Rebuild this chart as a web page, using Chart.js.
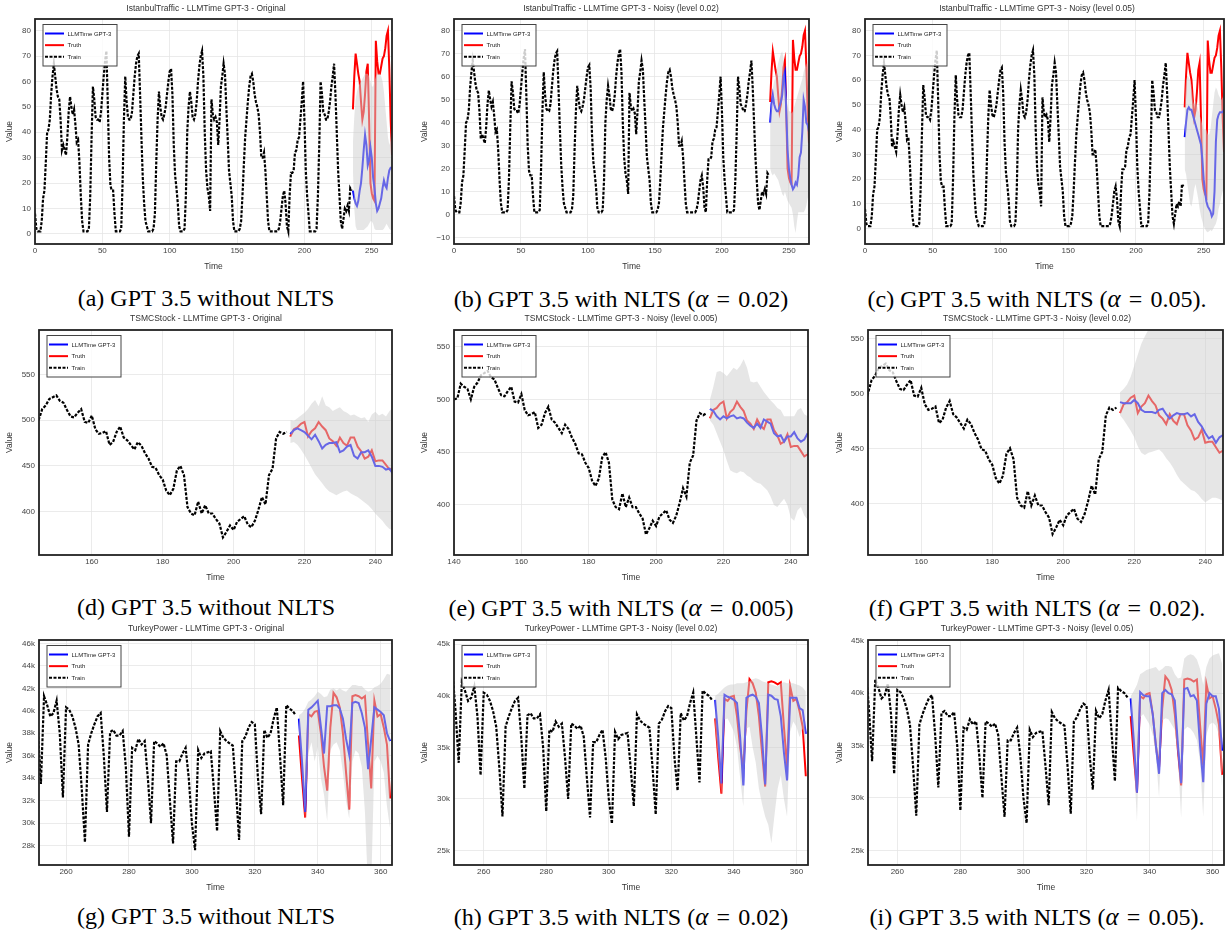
<!DOCTYPE html>
<html><head><meta charset="utf-8">
<script src="https://cdn.jsdelivr.net/npm/chart.js@4.4.1/dist/chart.umd.min.js"></script>
<style>
html,body{margin:0;padding:0;background:#fff;overflow:hidden;}
body{width:1229px;height:936px;position:relative;}
canvas{position:absolute;}
.cap{position:absolute;transform:translate(-50%,-50%);font-family:"Liberation Serif","Times New Roman",serif;font-size:24px;white-space:nowrap;color:#000;line-height:1;}
.cap .eq{margin:0 0.34em;}
.cap i{font-size:25px;}
.ttl{position:absolute;transform:translate(-50%,-50%);font-family:"Liberation Sans",Arial,sans-serif;font-size:8.5px;white-space:nowrap;color:#333;line-height:1;}
</style></head><body>
<script>
// ---------------- DATA ----------------
// IstanbulTraffic
const IST_TRAIN_START = 0;
const IST_FC_START = 236;
const IST_TRAIN = [
 8,2,1,1,1,5,14,17,28,40,
 41,45,55,62,67,62,57,54,53,45,
 33,35,33,31,38,48,54,50,47,49,
 43,36,37,28,15,5,1,1,1,1,
 2,15,38,58,53,46,45,45,44,48,
 55,62,68,72,52,30,19,17,17,8,
 1,1,1,1,2,20,45,62,52,46,
 45,45,48,55,62,67,70,71,55,38,
 22,12,5,3,1,1,1,1,2,8,
 28,45,56,50,46,45,47,50,55,60,
 64,65,55,35,23,18,12,3,1,1,
 1,2,15,40,50,56,52,46,45,47,
 52,60,66,70,72,62,40,25,18,15,
 9,53,47,45,46,44,35,45,58,62,
 67,63,50,38,25,20,15,5,1,1,
 1,1,2,5,15,27,38,45,52,58,
 62,63,60,55,52,50,47,40,30,30,
 32,25,15,5,1,1,1,1,1,1,
 1,2,5,10,15,17,12,3,1,15,
 24,24,25,32,33,37,38,45,52,60,
 45,25,15,8,1,1,1,1,1,2,
 15,35,60,55,48,47,45,45,48,52,
 58,62,67,55,40,25,15,5,2,6,
 10,9,11,9,18,17];
const IST_TRUTH = [49,62,71,67,63,60,52,45,48,55,64,67,45,20,16,14,13,76,68,63,63,66,69,70,73,78,80,65,45,31];
const IST_MED_A = [17,14,12,11,13,17,20,26,33,39,35,27,29,34,30,22,18,12,9,10,12,14,18,21,19,18,22,25,26,26];
const IST_HI_A  = [36,46,53,56,58,59,60,61,62,63,63,63,62,60,58,58,60,62,63,63,63,62,60,56,50,44,38,35,37,42];
const IST_LO_A  = [25,10,3,1.5,1.5,1.5,1.5,1.5,1.5,2,2.5,3,4,5,5,4,2,1.5,1.5,1.5,1.5,1.5,1.5,2,3,4,3,2,1.5,1.5];
const IST_MED_B = [40,48,52,48,46,45,45,47,49,52,60,62,45,28,20,16,13,11,12,14,13,17,25,27,36,50,47,40,39,36];
const IST_HI_B  = [43,50,55,58,60,63,66,68,70,71,68,60,52,48,45,45,44,45,47,49,51,53,55,57,59,62,64,66,62,55];
const IST_LO_B  = [20,18,17,18,17,16,15,13,11,9,8,10,8,6,5,4,3,0,-5,-8,-3,1,1,1,1,1,2,4,7,9];
const IST_MED_C = [37,43,48,49,48,48,46,44,42,40,38,36,34,28,20,15,11,9,8,7,5,6,15,35,44,46,47,47,47,48];
const IST_HI_C  = [50,60,62,61,60,58,52,50,52,50,48,46,44,42,40,40,40,38,38,40,45,50,55,57,56,54,53,52,53,55];
const IST_LO_C  = [24,22,18,14,10,9,12,16,18,15,12,8,5,3,1,0,-1,-1.5,-1,-0.5,-1,0,1,2,4,8,10,13,15,16];
const IST_X_TICKS = [0,50,100,150,200,250];
const IST_Y_TICKS_A = [0,10,20,30,40,50,60,70,80];
const IST_Y_TICKS_B = [-10,0,10,20,30,40,50,60,70,80];

// TSMCStock
const TSMC_TRAIN_START = 140;
const TSMC_FC_START = 216;
const TSMC_TRAIN = [
 500,501,515,512,510,
 500,512,516,523,525,527,521,519,511,504,
 503,508,512,498,497,505,490,485,486,488,
 473,476,487,493,481,478,473,468,476,472,
 464,458,449,448,440,435,423,418,425,445,
 450,440,405,398,396,411,398,407,398,398,
 392,387,372,378,385,380,389,392,395,386,
 383,390,402,416,408,440,447,480,487,485,
 487];
const TSMC_TRUTH = [482,490,492,496,498,482,488,491,498,493,489,480,477,472,481,475,472,481,481,471,466,458,460,467,455,456,456,451,446,448];
const TSMC_MED_D = [485,489,491,489,487,483,479,484,477,469,473,475,475,476,465,467,471,473,461,458,465,465,467,460,450,450,449,446,447,441];
const TSMC_HI_D  = [500,499,502,505,508,512,518,522,515,526,516,514,510,512,514,510,508,505,506,504,502,503,498,506,509,505,507,504,510,514];
const TSMC_LO_D  = [475,476,473,468,462,455,448,441,436,431,426,422,420,418,420,422,423,420,418,416,413,410,407,403,398,394,390,385,381,380];
const TSMC_MED_E = [491,489,484,481,484,482,484,485,482,483,482,478,475,473,477,473,481,479,477,468,465,466,460,465,465,469,463,460,462,468];
const TSMC_HI_E  = [500,512,526,527,525,522,526,530,528,532,538,530,517,516,517,512,507,503,499,496,492,490,484,484,484,484,490,492,486,484];
const TSMC_LO_E  = [480,476,468,460,452,442,433,431,430,432,431,428,426,423,421,420,417,414,408,400,398,402,406,400,388,385,395,398,390,386];
const TSMC_MED_F = [492,491,491,491,494,491,485,483,483,483,482,485,486,481,477,480,482,481,481,482,479,481,474,470,464,459,461,455,460,462];
const TSMC_HI_F  = [501,504,508,515,525,535,545,552,558,563,566,568,566,562,565,568,570,570,568,570,572,570,568,570,572,574,572,570,572,574];
const TSMC_LO_F  = [480,476,471,466,460,452,446,444,446,447,448,449,446,441,437,432,426,421,418,415,412,411,408,404,401,403,405,405,404,402];
const TSMC_X_TICKS_A = [160,180,200,220,240];
const TSMC_X_TICKS_B = [140,160,180,200,220,240];
const TSMC_Y_TICKS = [400,450,500,550];

// TurkeyPower (thousands)
const TRK_TRAIN_START = 250;
const TRK_FC_START = 334;
const TRK_TRAIN = [
 42.3,38.5,33.5,41.3,40.5,39.5,39.8,40.9,38,32.3,
 40.3,40.1,39.5,38.5,37,33,28.3,37,38,38.8,
 39.5,39.8,36,31,38.1,38.3,37.8,37.8,38.2,35,
 28.8,36.7,36.5,37.5,37,37.3,34,30,37.3,37.1,
 36.8,37.1,36,32,28.2,35.5,35.5,36.2,36.7,34,
 30,27.6,36.5,35.8,36.2,36.3,36.4,33,29.3,38.2,
 37.6,37.3,37.1,36.9,33,28.5,37.3,37.7,38.5,39,
 38.8,34,30.8,38.3,37.6,38,39.3,40.3,36,31.6,
 40.5,40.2,40,39.6];
const TRK_TRUTH = [37.8,34,30.5,39.7,39.5,39.9,40,38,35,32.9,38.5,41.6,41.2,40.3,38,34.5,31.2,41.3,41.4,41.3,41.1,41.3,37,33.1,40.9,39.5,39.7,38.5,37,32.2];
const TRK_MED_G = [39.3,35.5,31,40.1,40.3,40.6,40.9,38.6,36.2,40.4,40.4,40.5,40.5,40.2,39.3,37.5,36.1,40.7,40.8,40.7,39.8,38.5,34.8,37.5,40.3,40.1,39.9,39.6,38,37.3];
const TRK_HI_G  = [39.6,39.8,40.2,40.8,41,41.3,41.7,41.5,41.2,41.3,41.9,42,41.8,42,41.8,41.7,42,42.3,42.3,42.2,42.2,41.9,41.7,41.8,42.1,42.2,42.4,42.8,43.3,43.2];
const TRK_LO_G  = [38.3,34,30.2,36.2,37.2,35.5,36.8,34,32.5,30.2,36.5,37,37.2,36.5,34.5,32,30.4,35.5,36.5,36.2,35,31,24,24.5,35.5,36,35.5,34.5,31.5,29.5];
const TRK_MED_H = [39.6,36,31.5,40.1,39.9,39.8,39.6,39.3,36,31.3,39.8,40,40.1,39.9,39.3,36,31.4,40.1,40,39.7,39.6,38,34.5,31.8,39.8,39.8,39.8,38.8,38.6,36.3];
const TRK_HI_H  = [40,40.2,40.5,40.8,41,41.1,41.1,41.2,41.2,41.2,41.3,41.4,41.6,41.7,41.6,41.4,41.3,41.2,41.1,41,40.9,41.2,41.3,41.2,41.2,41.2,41.1,41,40.8,40.4];
const TRK_LO_H  = [37,33.8,30.3,37.7,37.8,37.2,36.5,35,32,29.3,36.8,37,35,33.5,31,29.5,28.3,27.5,25.7,28.5,31,32.3,30,28.3,36.5,37.5,37,36,36.8,35];
const TRK_MED_I = [39.5,35.5,30.5,40.1,39.8,39.7,39.7,38,35,32.3,40,40.3,40,39.9,39.3,35,31.4,40.4,40.5,39.7,39.8,39.3,35,31.5,39,40,39.7,39.7,38.5,34.5];
const TRK_HI_I  = [39.7,40.2,40.8,41.8,42,42.2,42.3,42.4,42.5,42.1,42.3,42.6,42.6,42.5,41.8,41.4,41.5,43.3,43.6,43.7,43.6,43.2,42.3,40.8,42.5,43.3,43.6,43.7,43.8,42.8];
const TRK_LO_I  = [38.8,33.5,27.8,37.7,38,37.5,37,36,34,30.1,37.4,37.6,37.5,37,36.5,33.8,28.1,36.5,36.8,36.6,36.2,35.5,33.5,28.2,36,37,37.2,36.9,36,31];
const TRK_X_TICKS = [260,280,300,320,340,360];
const TRK_Y_TICKS_A = [28,30,32,34,36,38,40,42,44,46];
const TRK_Y_TICKS_B = [25,30,35,40,45];

// ---------------- PANELS ----------------
const ROW_TOP = [19, 330, 640];
const PLOT_H = 225, TOP_PAD = 19, XAX_H = 32, PAD_R = 2;

const panels = [
 {title:'IstanbulTraffic - LLMTime GPT-3 - Original', L:35,R:392,W:35,dv:25,cx:206,row:0,
  train:IST_TRAIN,ts:IST_TRAIN_START,fc:IST_FC_START,truth:IST_TRUTH,med:IST_MED_A,hi:IST_HI_A,lo:IST_LO_A,
  xMin:0,xMax:265,yMin:-4,yMax:84.6,xt:IST_X_TICKS,yt:IST_Y_TICKS_A,k:false,
  cap:'(a) GPT 3.5 without NLTS'},
 {title:'IstanbulTraffic - LLMTime GPT-3 - Noisy (level 0.02)', L:454,R:809,W:36,dv:29,cx:621,row:0,
  train:IST_TRAIN,ts:IST_TRAIN_START,fc:IST_FC_START,truth:IST_TRUTH,med:IST_MED_B,hi:IST_HI_B,lo:IST_LO_B,
  xMin:0,xMax:265,yMin:-12.8,yMax:85.1,xt:IST_X_TICKS,yt:IST_Y_TICKS_B,k:false,
  cap:'(b) GPT 3.5 with NLTS (<i>α</i><span class="eq">=</span>0.02)'},
 {title:'IstanbulTraffic - LLMTime GPT-3 - Noisy (level 0.05)', L:865,R:1224,W:36,dv:25,cx:1037,row:0,
  train:IST_TRAIN,ts:IST_TRAIN_START,fc:IST_FC_START,truth:IST_TRUTH,med:IST_MED_C,hi:IST_HI_C,lo:IST_LO_C,
  xMin:0,xMax:265,yMin:-6.2,yMax:84.7,xt:IST_X_TICKS,yt:IST_Y_TICKS_A,k:false,
  cap:'(c) GPT 3.5 with NLTS (<i>α</i><span class="eq">=</span>0.05).'},
 {title:'TSMCStock - LLMTime GPT-3 - Original', L:39,R:392,W:39,dv:29,cx:206,row:1,
  train:TSMC_TRAIN,ts:TSMC_TRAIN_START,fc:TSMC_FC_START,truth:TSMC_TRUTH,med:TSMC_MED_D,hi:TSMC_HI_D,lo:TSMC_LO_D,
  xMin:145.1,xMax:244.7,yMin:352.7,yMax:598.4,xt:TSMC_X_TICKS_A,yt:TSMC_Y_TICKS,k:false,
  cap:'(d) GPT 3.5 without NLTS'},
 {title:'TSMCStock - LLMTime GPT-3 - Noisy (level 0.005)', L:454,R:808,W:36,dv:29,cx:621,row:1,
  train:TSMC_TRAIN,ts:TSMC_TRAIN_START,fc:TSMC_FC_START,truth:TSMC_TRUTH,med:TSMC_MED_E,hi:TSMC_HI_E,lo:TSMC_LO_E,
  xMin:140,xMax:245.1,yMin:352.6,yMax:565.8,xt:TSMC_X_TICKS_B,yt:TSMC_Y_TICKS,k:false,
  cap:'(e) GPT 3.5 with NLTS (<i>α</i><span class="eq">=</span>0.005)'},
 {title:'TSMCStock - LLMTime GPT-3 - Noisy (level 0.02)', L:868,R:1223,W:36,dv:28,cx:1037,row:1,
  train:TSMC_TRAIN,ts:TSMC_TRAIN_START,fc:TSMC_FC_START,truth:TSMC_TRUTH,med:TSMC_MED_F,hi:TSMC_HI_F,lo:TSMC_LO_F,
  xMin:145,xMax:245,yMin:353,yMax:557.6,xt:TSMC_X_TICKS_A,yt:TSMC_Y_TICKS,k:false,
  cap:'(f) GPT 3.5 with NLTS (<i>α</i><span class="eq">=</span>0.02).'},
 {title:'TurkeyPower - LLMTime GPT-3 - Original', L:39,R:392,W:39,dv:29,cx:206,row:2,
  train:TRK_TRAIN,ts:TRK_TRAIN_START,fc:TRK_FC_START,truth:TRK_TRUTH,med:TRK_MED_G,hi:TRK_HI_G,lo:TRK_LO_G,
  xMin:251.4,xMax:363.6,yMin:26.28,yMax:46.3,xt:TRK_X_TICKS,yt:TRK_Y_TICKS_A,k:true,
  cap:'(g) GPT 3.5 without NLTS'},
 {title:'TurkeyPower - LLMTime GPT-3 - Noisy (level 0.02)', L:454,R:808,W:36,dv:29,cx:621,row:2,
  train:TRK_TRAIN,ts:TRK_TRAIN_START,fc:TRK_FC_START,truth:TRK_TRUTH,med:TRK_MED_H,hi:TRK_HI_H,lo:TRK_LO_H,
  xMin:250.5,xMax:363.7,yMin:23.6,yMax:45.4,xt:TRK_X_TICKS,yt:TRK_Y_TICKS_B,k:true,
  cap:'(h) GPT 3.5 with NLTS (<i>α</i><span class="eq">=</span>0.02)'},
 {title:'TurkeyPower - LLMTime GPT-3 - Noisy (level 0.05)', L:868,R:1224,W:36,dv:28,cx:1037,row:2,
  train:TRK_TRAIN,ts:TRK_TRAIN_START,fc:TRK_FC_START,truth:TRK_TRUTH,med:TRK_MED_I,hi:TRK_HI_I,lo:TRK_LO_I,
  xMin:250.7,xMax:363.6,yMin:23.6,yMax:45.07,xt:TRK_X_TICKS,yt:TRK_Y_TICKS_B,k:true,
  cap:'(i) GPT 3.5 with NLTS (<i>α</i><span class="eq">=</span>0.05).'}
];
const CAP_Y = [298, 607, 916];
const TITLE_Y = [7.5, 317.5, 627.5];

// ---------------- PLUGINS ----------------
const framePlugin = {
  id:'frame',
  afterDatasetsDraw(chart){
    const {ctx, chartArea:a} = chart;
    ctx.save();
    ctx.strokeStyle = '#222'; ctx.lineWidth = 1.8;
    ctx.strokeRect(a.left, a.top, a.right - a.left, a.bottom - a.top);
    ctx.restore();
  }
};
const boxLegend = {
  id:'boxLegend',
  afterDraw(chart){
    const {ctx, chartArea:a} = chart;
    const x = a.left + 8, y = a.top + 5.5, w = 74, h = 41.5;
    ctx.save();
    ctx.fillStyle = 'rgba(255,255,255,0.8)';
    ctx.fillRect(x, y, w, h);
    ctx.strokeStyle = '#444'; ctx.lineWidth = 1;
    ctx.strokeRect(x, y, w, h);
    const items = chart.data.datasets.filter(d => d.inBox);
    items.forEach((d, i) => {
      const yy = y + 9 + i * 11.65;
      ctx.beginPath();
      ctx.setLineDash(d.borderDash || []);
      ctx.strokeStyle = d.legendColor;
      ctx.lineWidth = 2;
      ctx.moveTo(x + 2, yy); ctx.lineTo(x + 21, yy);
      ctx.stroke();
      ctx.setLineDash([]);
      ctx.fillStyle = '#222';
      ctx.font = '6px "Liberation Sans", Arial, sans-serif';
      ctx.textBaseline = 'middle';
      ctx.textAlign = 'left';
      ctx.fillText(d.label, x + 24.5, yy + 0.5);
    });
    ctx.restore();
  }
};

Chart.defaults.font.family = '"Liberation Sans", Arial, sans-serif';

function pts(arr, start){ return arr.map((v, i) => ({x: start + i, y: v})); }

panels.forEach((p) => {
  const cl = p.L - p.W;
  const width = p.W + (p.R - p.L) + PAD_R;
  const height = TOP_PAD + PLOT_H + XAX_H;
  const top = ROW_TOP[p.row] - TOP_PAD;
  const cv = document.createElement('canvas');
  cv.width = width; cv.height = height;
  cv.style.left = cl + 'px'; cv.style.top = top + 'px';
  cv.style.width = width + 'px'; cv.style.height = height + 'px';
  document.body.appendChild(cv);

  const band = 'rgba(205,205,205,0.5)';
  new Chart(cv, {
    type:'line',
    data:{
      datasets:[
        {label:'hi', data:pts(p.hi, p.fc), borderWidth:0, pointRadius:0, fill:'+1', backgroundColor:band, borderColor:'rgba(0,0,0,0)'},
        {label:'lo', data:pts(p.lo, p.fc), borderWidth:0, pointRadius:0, fill:false, borderColor:'rgba(0,0,0,0)'},
        {label:'LLMTime GPT-3', data:pts(p.med, p.fc), borderColor:'#0000ff', legendColor:'#0000ff', borderWidth:2, pointRadius:0, fill:false, inBox:true},
        {label:'Truth', data:pts(p.truth, p.fc), borderColor:'#ff0000', legendColor:'#ff0000', borderWidth:2, pointRadius:0, fill:false, inBox:true},
        {label:'Train', data:pts(p.train, p.ts), borderColor:'#000000', legendColor:'#000000', borderWidth:2.2, borderDash:[3,1.5], pointRadius:0, fill:false, inBox:true}
      ]
    },
    options:{
      responsive:false, animation:false, devicePixelRatio:1,
      layout:{padding:{left:0, right:PAD_R, top:TOP_PAD, bottom:0}},
      elements:{line:{tension:0, borderCapStyle:'butt'}},
      plugins:{
        legend:{display:false}, tooltip:{enabled:false}, title:{display:false}
      },
      scales:{
        x:{type:'linear', min:p.xMin, max:p.xMax,
           afterBuildTicks:(s)=>{ s.ticks = p.xt.map(v => ({value:v})); },
           afterFit:(s)=>{ s.height = XAX_H; },
           grid:{color:'#e6e6e6', lineWidth:0.8, drawTicks:false},
           border:{display:false},
           ticks:{color:'#444', font:{size:8}, padding:2, maxRotation:0, autoSkip:false},
           title:{display:true, text:'Time', color:'#333', font:{size:8.5, lineHeight:1.2}, padding:{top:0, bottom:4.4}}},
        y:{type:'linear', min:p.yMin, max:p.yMax,
           afterBuildTicks:(s)=>{ s.ticks = p.yt.map(v => ({value:v})); },
           afterFit:(s)=>{ s.width = p.W; },
           grid:{color:'#e6e6e6', lineWidth:0.8, drawTicks:false},
           border:{display:false},
           ticks:{color:'#444', font:{size:8}, padding:4, autoSkip:false,
                  callback:(v)=> p.k ? (v + 'k') : (v < 0 ? '\u2212' + Math.abs(v) : String(v))},
           title:{display:true, text:'Value', color:'#333', font:{size:8.5, lineHeight:1.2}, padding:{top:p.W - p.dv - 5.1, bottom:0}}}
      }
    },
    plugins:[framePlugin, boxLegend]
  });

  const ttl = document.createElement('div');
  ttl.className = 'ttl';
  ttl.style.left = p.cx + 'px';
  ttl.style.top = TITLE_Y[p.row] + 'px';
  ttl.textContent = p.title;
  document.body.appendChild(ttl);

  const cap = document.createElement('div');
  cap.className = 'cap';
  cap.style.left = p.cx + 'px';
  cap.style.top = CAP_Y[p.row] + 'px';
  cap.innerHTML = p.cap;
  document.body.appendChild(cap);
});
</script>
</body></html>
